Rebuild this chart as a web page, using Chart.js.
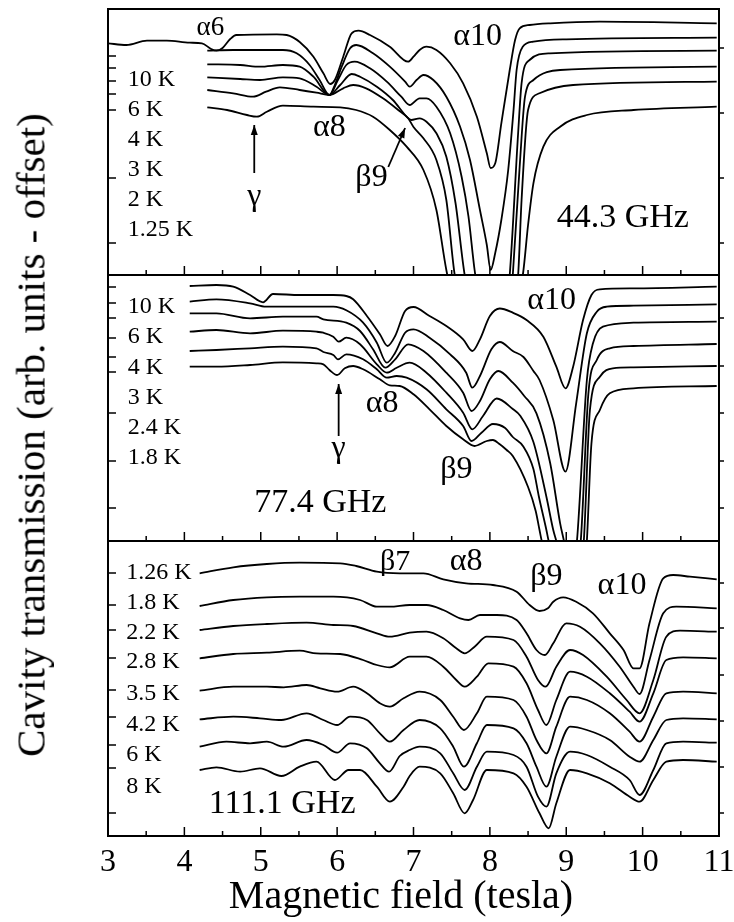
<!DOCTYPE html>
<html>
<head>
<meta charset="utf-8">
<script src="https://cdn.jsdelivr.net/npm/chart.js@4.4.1/dist/chart.umd.min.js"></script>
<style>
html, body { margin: 0; padding: 0; background: #fff; }
#wrap { position: relative; width: 734px; height: 922px; overflow: hidden; }
#wrap canvas { position: absolute; left: 0; top: 0; }
.ttl { position: absolute; white-space: nowrap; color: #000; line-height: 1; font-family: "Liberation Serif", serif; }
#ytitle { left: 31px; top: 435px; font-size: 41px; transform: translate(-50%, -50%) rotate(-90deg); }
#xtitle { left: 401px; top: 895px; font-size: 40px; transform: translate(-50%, -50%); }
</style>
</head>
<body>
<div id="wrap">
  <canvas id="c1" width="734" height="922"></canvas>
  <canvas id="c2" width="734" height="922"></canvas>
  <canvas id="c3" width="734" height="922"></canvas>
  <div class="ttl" id="ytitle">Cavity transmission (arb. units - offset)</div>
  <div class="ttl" id="xtitle">Magnetic field (tesla)</div>
</div>
<script>
// magnetic field ticks (tesla)
const fieldMajor = [3, 4, 5, 6, 7, 8, 9, 10, 11];
const fieldMinor = [3.5, 4.5, 5.5, 6.5, 7.5, 8.5, 9.5, 10.5];

// ---- 44.3 GHz : [field, transmission + offset]
const temps443 = ['10 K', '6 K', '4 K', '3 K', '2 K', '1.25 K'];
const t443_10K = [[3.00,231.7],[3.24,230],[3.51,234.3],[3.77,234.3],[4.07,232.3],[4.23,231.7],[4.35,226],[4.42,224.3],[4.5,227],[4.6,236],[4.68,240],[5.21,240.7],[5.34,240],[5.51,233],[5.69,218.3],[5.82,201.7],[5.91,191],[5.97,195],[6.08,218.3],[6.19,241.7],[6.28,244.3],[6.43,240],[6.69,228.3],[6.93,213.3],[7.0,218.3],[7.08,225],[7.17,228.3],[7.3,225],[7.48,211.7],[7.65,191.7],[7.83,158.3],[7.96,121.7],[8.01,107],[8.07,111.7],[8.15,151.7],[8.26,205],[8.33,235],[8.39,246.7],[8.52,250],[8.79,251.7],[9.44,253.3],[10.97,251.7]];
const t443_6K = [[4.30,224.3],[4.64,225],[5.29,225],[5.47,221.7],[5.64,210],[5.77,195],[5.9,180],[5.97,190],[6.06,208.3],[6.17,226.7],[6.25,230],[6.47,221.7],[6.69,208.3],[6.89,193.3],[6.95,188.3],[7.04,195],[7.13,200],[7.26,195],[7.43,178.3],[7.61,148.3],[7.74,115],[7.87,65],[7.96,30],[8.01,5],[8.07,22],[8.15,55],[8.24,105],[8.31,165],[8.35,205],[8.43,228.3],[8.57,233.3],[9.0,235.7],[10.97,237.3]];
const t443_4K = [[4.30,210.7],[4.73,210],[4.99,208.3],[5.29,210],[5.51,208.3],[5.69,198.3],[5.9,180],[6.01,195],[6.12,210],[6.23,213.3],[6.43,206.7],[6.65,193.3],[6.84,178.3],[6.95,170],[7.08,176.7],[7.17,176.7],[7.3,168.3],[7.48,141.7],[7.63,98.3],[7.72,58.3],[7.8,5],[7.9,-40],[8.05,-70],[8.2,-40],[8.26,0],[8.37,142],[8.415,191.7],[8.52,215],[8.785,221.7],[10.97,224.3]];
const t443_3K = [[4.30,197.7],[4.73,196],[4.99,195],[5.29,197.7],[5.51,196.7],[5.73,188.3],[5.9,180],[6.04,190],[6.19,201],[6.3,198.3],[6.52,188.3],[6.73,175],[6.91,158.3],[6.97,155],[7.08,156.7],[7.17,153.3],[7.3,141.7],[7.43,118.3],[7.55,72],[7.67,0],[7.85,-60],[8.1,-80],[8.28,-20],[8.30,0],[8.39,108.3],[8.46,178.3],[8.57,195],[8.92,205],[10.97,208.3]];
const t443_2K = [[4.30,185],[4.64,181.7],[4.9,178.3],[5.07,183.3],[5.25,187.7],[5.51,185],[5.73,182.3],[5.9,180],[6.08,186.7],[6.21,190],[6.38,186.7],[6.6,176.7],[6.8,165],[6.93,156.7],[7.0,148],[7.13,136.7],[7.3,115],[7.43,75],[7.54,0],[7.8,-70],[8.2,-70],[8.35,-10],[8.37,0],[8.415,75],[8.50,165],[8.65,181.7],[9.09,190],[10.97,193.3]];
const t443_125K = [[4.30,167.7],[4.56,165],[4.82,160],[4.95,158.3],[5.08,163.3],[5.29,169.3],[5.69,168.3],[6.04,167.7],[6.25,165],[6.47,158.3],[6.69,145],[6.91,128.3],[7.13,105],[7.3,65],[7.43,5],[7.7,-80],[8.2,-80],[8.4,-10],[8.435,2],[8.5,50],[8.57,91.7],[8.70,128.3],[8.92,148.3],[9.27,160],[9.88,165],[10.97,168.3]];

// ---- 77.4 GHz
const temps774 = ['10 K', '6 K', '4 K', '3 K', '2.4 K', '1.8 K'];
const t774_10K = [[4.07,255],[4.42,256],[4.64,254.3],[4.86,246],[5.03,238.7],[5.16,247],[5.51,246],[5.95,246],[6.12,245],[6.21,241.7],[6.39,225],[6.56,206.7],[6.66,195],[6.76,205],[6.89,230],[7.0,234],[7.21,225],[7.43,215],[7.65,201.7],[7.77,190],[7.87,201.7],[8.0,225],[8.13,232.5],[8.3,228.3],[8.48,221],[8.7,204.3],[8.87,174.3],[8.99,152.7],[9.09,174.3],[9.22,221],[9.33,246],[9.44,251.7],[9.88,252.7],[10.97,254.3]];
const t774_6K = [[4.07,239.3],[4.42,241.7],[4.86,237.7],[5.07,234.3],[5.51,234.3],[5.95,234.3],[6.12,230.7],[6.34,218.3],[6.52,198.3],[6.65,178.3],[6.76,188.3],[6.89,208.3],[7.0,211.7],[7.21,203.3],[7.48,186.7],[7.69,168.3],[7.77,153.3],[7.87,165],[8.02,191.7],[8.13,199],[8.3,190],[8.44,184],[8.57,170],[8.65,161],[8.83,121],[8.99,69.3],[9.13,137.7],[9.27,207.7],[9.4,229.3],[9.53,234.3],[9.88,235.3],[10.97,236.7]];
const t774_4K = [[4.07,227.7],[4.42,227.7],[4.86,222.7],[5.29,224.3],[5.73,224.3],[5.82,221.7],[6.12,218.3],[6.3,210],[6.47,191.7],[6.63,173.3],[6.76,181.7],[6.93,196.7],[7.13,190],[7.43,168.3],[7.65,148.3],[7.76,130],[7.87,140],[8.0,161.7],[8.11,170],[8.3,158.3],[8.45,145],[8.61,127.7],[8.79,77.7],[8.92,17.7],[8.97,0],[9.05,-30],[9.12,-10],[9.14,0],[9.27,161],[9.35,197.7],[9.48,214.3],[9.88,218.3],[10.97,219.3]];
const t774_3K = [[4.07,209.3],[4.42,211],[4.86,207.7],[5.29,210.3],[5.73,209.3],[5.82,208.3],[5.95,204.3],[6.02,199.3],[6.12,203.3],[6.3,196.7],[6.52,176.7],[6.65,168.3],[6.78,173.3],[6.95,178.3],[7.17,168.3],[7.43,148.3],[7.65,128.3],[7.77,111.7],[7.91,125],[8.09,142.5],[8.3,132],[8.4,125],[8.57,99],[8.74,44.3],[8.83,11],[8.87,0],[9.0,-40],[9.15,-20],[9.19,0],[9.29,147.7],[9.4,181],[9.57,192.7],[9.88,195],[10.97,197]];
const t774_24K = [[4.07,190],[4.42,191],[4.86,192.7],[5.29,194.3],[5.73,192.7],[5.82,189],[5.95,186],[6.01,181.7],[6.12,186.7],[6.34,181.7],[6.52,171.7],[6.65,163.3],[6.78,165],[6.91,163.3],[7.17,151.7],[7.43,131.7],[7.65,115],[7.76,100],[7.89,108.3],[8.04,117],[8.2,113],[8.3,104],[8.44,94.3],[8.57,72],[8.64,45],[8.74,11],[8.77,0],[9.0,-50],[9.2,-20],[9.23,0],[9.31,131],[9.44,164.3],[9.61,172.7],[9.88,173.7],[10.97,175]];
const t774_18K = [[4.07,174.3],[4.42,174.3],[4.86,176],[5.29,178.7],[5.73,177.7],[5.82,176.7],[5.9,171],[6.0,166],[6.1,172.7],[6.21,175],[6.34,171.7],[6.56,161.7],[6.69,155.7],[6.82,155],[7.0,146.7],[7.21,131.7],[7.43,115],[7.65,101.7],[7.8,95],[7.96,100],[8.04,101],[8.13,96.7],[8.22,91],[8.3,85],[8.5,54],[8.6,30],[8.65,11],[8.68,0],[9.0,-60],[9.25,-20],[9.27,0],[9.33,97.7],[9.44,131],[9.57,147.7],[9.88,152.7],[10.97,155]];

// ---- 111.1 GHz
const temps1111 = ['1.26 K', '1.8 K', '2.2 K', '2.8 K', '3.5 K', '4.2 K', '6 K', '8 K'];
const t1111_126K = [[4.2,262.7],[4.64,268.7],[5.08,272],[5.51,273.3],[6.04,272.7],[6.25,270],[6.52,264.3],[6.82,262.7],[7.13,262.7],[7.39,256.7],[7.69,252.7],[8.04,251],[8.35,244.3],[8.52,231],[8.65,225],[8.76,227.7],[8.83,234.3],[8.96,238.7],[9.13,234.3],[9.35,222.7],[9.57,202.7],[9.75,186],[9.88,167.7],[9.96,167.7],[10.09,212.7],[10.27,257.7],[10.4,261],[10.62,259.3],[10.97,256.7]];
const t1111_18K = [[4.2,230],[4.64,236],[5.08,238.7],[5.51,239.3],[5.95,239.3],[6.3,236],[6.52,229.3],[6.69,229.3],[6.95,231],[7.17,231],[7.39,226],[7.61,217.7],[7.72,216],[7.87,221],[8.09,221],[8.35,216],[8.48,202.7],[8.61,186],[8.72,181],[8.83,192.7],[9.0,212.7],[9.18,209.3],[9.44,192.7],[9.7,169.3],[9.88,149.3],[9.96,142],[10.09,176],[10.27,222.7],[10.44,229.3],[10.97,227.7]];
const t1111_22K = [[4.2,206],[4.64,210],[5.08,212],[5.6,213.3],[5.95,211],[6.21,210],[6.52,202.7],[6.69,199.3],[6.95,203.3],[7.17,204.3],[7.39,197.7],[7.56,187.7],[7.67,182.7],[7.8,189.3],[7.96,199.3],[8.31,196],[8.48,179.3],[8.63,156],[8.73,149.3],[8.87,169.3],[9.05,186],[9.22,181],[9.53,159.3],[9.79,136],[9.96,122.7],[10.14,156],[10.31,199.3],[10.49,205.3],[10.97,204.3]];
const t1111_28K = [[4.2,177.7],[4.64,182],[5.08,183.3],[5.51,185.3],[5.73,182.7],[6.04,182],[6.34,176],[6.52,171],[6.69,168.7],[6.95,179.3],[7.17,179.3],[7.39,169.3],[7.56,156],[7.67,149.3],[7.83,159.3],[7.98,172.7],[8.31,169.3],[8.48,152.7],[8.63,126],[8.74,111],[8.87,136],[9.05,164.3],[9.27,159.3],[9.57,142.7],[9.83,124.3],[9.96,114.3],[10.14,142.7],[10.31,176],[10.53,178.7],[10.97,177.7]];
const t1111_35K = [[4.2,145.3],[4.64,149.3],[5.08,149.3],[5.3,148.7],[5.6,151],[5.78,147.7],[6.0,144.3],[6.21,149.3],[6.39,142.7],[6.56,132.7],[6.69,129.3],[6.87,137.7],[7.08,144.3],[7.35,136],[7.52,119.3],[7.66,106],[7.83,122.7],[7.96,139.3],[8.31,136],[8.48,119.3],[8.61,96],[8.74,82.7],[8.87,109.3],[9.05,139.3],[9.27,136],[9.57,122.7],[9.83,104.3],[9.96,94.3],[10.14,119.3],[10.31,142.7],[10.53,144.3],[10.97,142.7]];
const t1111_42K = [[4.2,116.7],[4.64,119.3],[4.99,117.7],[5.27,116],[5.6,122.7],[5.82,116],[6.0,111],[6.17,119.3],[6.39,116],[6.56,102.7],[6.69,94.3],[6.87,106],[7.08,116],[7.35,107.7],[7.52,89.3],[7.66,69.3],[7.83,92.7],[7.96,111],[8.31,107.7],[8.48,92.7],[8.61,69.3],[8.74,49.3],[8.87,79.3],[9.05,109.3],[9.27,106],[9.57,96],[9.83,79.3],[9.96,74.3],[10.14,96],[10.31,116],[10.53,117.7],[10.97,116.7]];
const t1111_6K = [[4.2,89.3],[4.55,94.3],[4.86,92.7],[5.08,94.3],[5.3,89.3],[5.6,96],[5.82,91],[6.0,83.3],[6.17,92.7],[6.39,87.7],[6.56,72.7],[6.68,64.3],[6.82,80],[6.95,86],[7.08,89.3],[7.35,82.7],[7.52,62.7],[7.67,46],[7.83,69.3],[7.96,84.3],[8.31,81],[8.48,69.3],[8.63,39.3],[8.74,29.3],[8.87,62.7],[9.05,84.3],[9.27,81],[9.57,69.3],[9.83,56],[9.96,41],[10.14,66],[10.31,92.7],[10.53,94.3],[10.97,93.3]];
const t1111_8K = [[4.2,66],[4.42,68.7],[4.73,64.3],[4.99,67.7],[5.27,60],[5.51,69.3],[5.73,74.3],[5.97,56],[6.15,66],[6.3,66],[6.52,49.3],[6.69,34.3],[6.87,49.3],[6.95,60],[7.08,69.3],[7.35,62.7],[7.52,42.7],[7.67,22.7],[7.78,36],[7.96,66],[8.31,62.7],[8.48,49.3],[8.65,22.7],[8.77,7.7],[8.87,32.7],[9.05,66],[9.27,62.7],[9.57,52.7],[9.83,39.3],[9.96,34.3],[10.14,56],[10.31,74.3],[10.53,76],[10.97,74.3]];

// draws frame, inward ticks, labels and arrows for each panel
const decor = {
  id: 'decor',
  afterDatasetsDraw(chart, args, o) {
    const ctx = chart.ctx, a = chart.chartArea, x = chart.scales.x, y = chart.scales.y;
    ctx.save();
    ctx.strokeStyle = '#000';
    ctx.fillStyle = '#000';
    ctx.lineWidth = 2;
    ctx.strokeRect(a.left, a.top, a.right - a.left, a.bottom - a.top);
    ctx.lineWidth = 1.5;
    ctx.beginPath();
    fieldMajor.forEach(v => { const px = x.getPixelForValue(v); ctx.moveTo(px, a.bottom); ctx.lineTo(px, a.bottom - 9); });
    fieldMinor.forEach(v => { const px = x.getPixelForValue(v); ctx.moveTo(px, a.bottom); ctx.lineTo(px, a.bottom - 5); });
    o.ticksL.forEach(v => { const py = y.getPixelForValue(v); ctx.moveTo(a.left, py); ctx.lineTo(a.left + 8, py); });
    o.ticksR.forEach(v => { const py = y.getPixelForValue(v); ctx.moveTo(a.right, py); ctx.lineTo(a.right + 5, py); });
    ctx.stroke();

    (o.arrows || []).forEach(ar => {
      const x1 = x.getPixelForValue(ar.from[0]), y1 = y.getPixelForValue(ar.from[1]);
      const x2 = x.getPixelForValue(ar.to[0]), y2 = y.getPixelForValue(ar.to[1]);
      ctx.lineWidth = 1.8;
      ctx.beginPath(); ctx.moveTo(x1, y1); ctx.lineTo(x2, y2); ctx.stroke();
      const ang = Math.atan2(y2 - y1, x2 - x1), L = 10, W = 3.5;
      ctx.beginPath();
      ctx.moveTo(x2, y2);
      ctx.lineTo(x2 - L * Math.cos(ang) + W * Math.sin(ang), y2 - L * Math.sin(ang) - W * Math.cos(ang));
      ctx.lineTo(x2 - L * Math.cos(ang) - W * Math.sin(ang), y2 - L * Math.sin(ang) + W * Math.cos(ang));
      ctx.closePath(); ctx.fill();
    });

    ctx.textBaseline = 'middle';
    (o.labels || []).forEach(l => {
      ctx.font = l.size + 'px "Liberation Serif", serif';
      ctx.textAlign = l.align || 'center';
      ctx.fillText(l.text, x.getPixelForValue(l.x), y.getPixelForValue(l.y));
    });
    ctx.restore();
  }
};

function tempLabels(names, levels, xAt) {
  return names.map((t, i) => ({ text: t, x: xAt, y: levels[i], size: 24, align: 'left' }));
}

function makePanel(id, padTop, padBottom, yMax, curves, deco, showAxis) {
  return new Chart(document.getElementById(id), {
    type: 'line',
    data: {
      datasets: curves.map(c => ({
        data: c.map(p => ({ x: p[0], y: p[1] })),
        borderColor: '#000',
        borderWidth: 1.8,
        pointRadius: 0,
        fill: false,
        cubicInterpolationMode: 'monotone'
      }))
    },
    options: {
      responsive: false,
      animation: false,
      events: [],
      layout: { padding: { left: 108, right: 15, top: padTop, bottom: padBottom } },
      plugins: { legend: { display: false }, tooltip: { enabled: false }, decor: deco },
      scales: {
        x: {
          type: 'linear', min: 3, max: 11, display: showAxis,
          grid: { display: false, drawTicks: false },
          border: { display: false },
          ticks: { stepSize: 1, maxRotation: 0, autoSkip: false, padding: 7, color: '#000',
                   font: { family: '"Liberation Serif", serif', size: 32 } },
          afterFit: s => { s.height = showAxis ? 86 : 0; s.paddingLeft = 0; s.paddingRight = 0; }
        },
        y: { type: 'linear', min: 0, max: yMax, display: false }
      }
    },
    plugins: [decor]
  });
}

makePanel('c1', 9, 647, 266,
  [t443_10K, t443_6K, t443_4K, t443_3K, t443_2K, t443_125K],
  {
    ticksL: [219, 207, 194, 181, 165, 97, 32],
    ticksR: [227, 162, 97, 32],
    arrows: [
      { from: [4.915, 102], to: [4.915, 150] },
      { from: [6.67, 108], to: [6.89, 147] }
    ],
    labels: tempLabels(temps443, [195, 165, 135, 105, 75, 45], 3.26).concat([
      { text: 'α6', x: 4.34, y: 247, size: 27 },
      { text: 'α8', x: 5.9, y: 147, size: 32 },
      { text: 'β9', x: 6.45, y: 97, size: 32 },
      { text: 'γ', x: 4.915, y: 78, size: 32 },
      { text: 'α10', x: 7.84, y: 238, size: 32 },
      { text: '44.3 GHz', x: 9.74, y: 57, size: 34 }
    ])
  }, false);

makePanel('c2', 275, 381, 266,
  [t774_10K, t774_6K, t774_4K, t774_3K, t774_24K, t774_18K],
  {
    ticksL: [254, 238, 223, 203, 184, 169, 128, 80, 33],
    ticksR: [223, 175, 128, 80, 33],
    arrows: [{ from: [6.02, 105], to: [6.02, 157] }],
    labels: tempLabels(temps774, [234, 204, 173, 143, 113, 83], 3.26).concat([
      { text: 'α10', x: 8.81, y: 240, size: 32 },
      { text: 'α8', x: 6.59, y: 137, size: 32 },
      { text: 'β9', x: 7.56, y: 71, size: 32 },
      { text: 'γ', x: 6.02, y: 92, size: 32 },
      { text: '77.4 GHz', x: 5.78, y: 38, size: 34 }
    ])
  }, false);

makePanel('c3', 541, 0, 295,
  [t1111_126K, t1111_18K, t1111_22K, t1111_28K, t1111_35K, t1111_42K, t1111_6K, t1111_8K],
  {
    ticksL: [263, 231, 206, 178, 146, 119, 91, 68, 23],
    ticksR: [253, 208, 161, 115, 69, 23],
    labels: tempLabels(temps1111, [263, 233, 203, 174, 142, 111, 81, 49], 3.24).concat([
      { text: 'β7', x: 6.76, y: 274, size: 30 },
      { text: 'α8', x: 7.69, y: 274, size: 32 },
      { text: 'β9', x: 8.74, y: 259, size: 32 },
      { text: 'α10', x: 9.73, y: 250, size: 32 },
      { text: '111.1 GHz', x: 5.28, y: 32, size: 34 }
    ])
  }, true);
</script>
</body>
</html>
